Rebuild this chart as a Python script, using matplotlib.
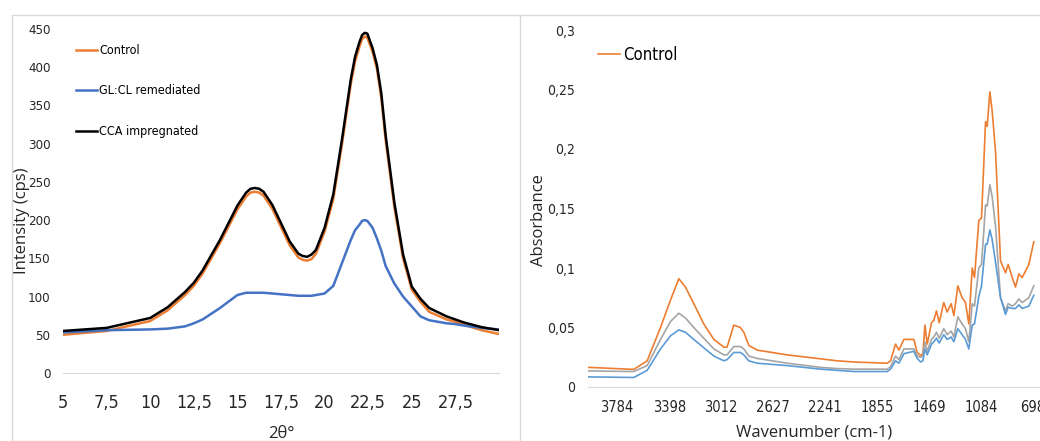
import numpy as np
import matplotlib.pyplot as plt
from matplotlib import font_manager
from matplotlib.patches import Rectangle
from matplotlib.lines import Line2D

# fonts: narrow for the ticks (Excel look), normal for axis titles
names = set(f.name for f in font_manager.fontManager.ttflist)
NARROW = 'Liberation Sans Narrow' if 'Liberation Sans Narrow' in names else 'DejaVu Sans'
TITLE = 'Open Sans' if 'Open Sans' in names else 'DejaVu Sans'
NARROW_FONT = dict(family=NARROW, stretch='condensed')

# ---- XRD data (left) ----
theta = [5, 7.5, 10, 11, 12, 12.5, 13, 14, 15, 15.5, 15.75, 16, 16.25, 16.5, 17, 17.5, 18, 18.5,
         18.75, 19, 19.25, 19.5, 20, 20.5, 21, 21.5, 21.75, 22, 22.15, 22.3, 22.45, 22.75, 23,
         23.25, 23.5, 24, 24.5, 25, 25.5, 26, 27, 27.5, 28, 29, 30]
control_xrd = [50, 55, 68, 82, 102, 114, 130, 170, 214, 231, 236, 237, 236, 232, 215, 191, 167, 151,
               148, 147, 149, 156, 185, 228, 300, 378, 408, 427, 437, 440, 439, 420, 398, 360,
               305, 217, 150, 109, 93, 80, 70, 67, 63, 56, 51]
cca_xrd = [55, 59, 72, 86, 106, 118, 134, 174, 219, 236, 241, 242, 241, 237, 220, 196, 172, 156,
           153, 152, 155, 161, 190, 234, 306, 384, 414, 433, 442, 445, 444, 425, 403, 366,
           311, 223, 155, 113, 97, 85, 74, 70, 66, 60, 56]
gl_xrd = [53, 56, 57, 58, 61, 65, 70, 85, 102, 105, 105, 105, 105, 105, 104, 103, 102, 101,
          101, 101, 101, 102, 104, 114, 144, 174, 187, 194, 199, 200, 199, 190, 176, 160,
          140, 117, 100, 87, 74, 69, 65, 64, 62, 59, 57]

# ---- FTIR data (right) ----
wn = [3994, 3660, 3561, 3462, 3388, 3326, 3277, 3215, 3141, 3066, 2992, 2968, 2918, 2869, 2844,
      2807, 2745, 2522, 2275, 2151, 2028, 1780, 1755, 1718, 1693, 1656, 1582, 1557, 1532, 1515,
      1500, 1483, 1451, 1434, 1414, 1394, 1360, 1335, 1305, 1285, 1256, 1224, 1199, 1174, 1149,
      1132, 1100, 1080, 1050, 1038, 1018, 1001, 976, 939, 902, 882, 852, 828, 803, 778, 729, 692]
control_ir = [0.0165, 0.0148, 0.022, 0.050, 0.073, 0.091, 0.084, 0.070, 0.053, 0.040, 0.0335, 0.0335,
              0.052, 0.050, 0.046, 0.035, 0.031, 0.027, 0.0237, 0.022, 0.021, 0.020, 0.022, 0.036,
              0.031, 0.040, 0.040, 0.029, 0.0265, 0.028, 0.052, 0.036, 0.054, 0.056, 0.064, 0.054,
              0.071, 0.063, 0.070, 0.060, 0.085, 0.075, 0.071, 0.053, 0.100, 0.092, 0.140, 0.142,
              0.223, 0.219, 0.248, 0.232, 0.198, 0.106, 0.096, 0.103, 0.092, 0.084, 0.095, 0.092,
              0.103, 0.122]
gray_ir = [0.0135, 0.0130, 0.018, 0.040, 0.055, 0.062, 0.058, 0.050, 0.041, 0.032, 0.027, 0.027,
           0.034, 0.034, 0.032, 0.026, 0.024, 0.020, 0.0165, 0.0155, 0.015, 0.015, 0.017, 0.026,
           0.023, 0.032, 0.032, 0.026, 0.025, 0.026, 0.038, 0.030, 0.040, 0.042, 0.046, 0.041,
           0.049, 0.044, 0.047, 0.042, 0.059, 0.053, 0.049, 0.038, 0.070, 0.068, 0.100, 0.103,
           0.153, 0.152, 0.170, 0.160, 0.135, 0.075, 0.064, 0.070, 0.068, 0.070, 0.074, 0.071,
           0.075, 0.085]
blue_ir = [0.0085, 0.008, 0.014, 0.032, 0.043, 0.048, 0.046, 0.040, 0.033, 0.026, 0.022, 0.023,
           0.029, 0.029, 0.027, 0.022, 0.020, 0.018, 0.015, 0.014, 0.013, 0.013, 0.015, 0.022,
           0.020, 0.028, 0.030, 0.024, 0.021, 0.022, 0.032, 0.027, 0.036, 0.038, 0.041, 0.037,
           0.044, 0.040, 0.042, 0.038, 0.049, 0.044, 0.040, 0.032, 0.052, 0.053, 0.076, 0.085,
           0.120, 0.120, 0.132, 0.124, 0.105, 0.075, 0.061, 0.067, 0.066, 0.066, 0.069, 0.066,
           0.068, 0.077]

xrd_ticks = [5, 7.5, 10, 12.5, 15, 17.5, 20, 22.5, 25, 27.5]
xrd_ticklabels = ['5', '7,5', '10', '12,5', '15', '17,5', '20', '22,5', '25', '27,5']
ir_ticks = [3784, 3398, 3012, 2627, 2241, 1855, 1469, 1084, 698]
ir_yticks = [0, 0.05, 0.1, 0.15, 0.2, 0.25, 0.3]
ir_yticklabels = ['0', '0,05', '0,1', '0,15', '0,2', '0,25', '0,3']

W, H = 1040, 441
fig = plt.figure(figsize=(W / 100, H / 100), dpi=100)

# panel borders (screenshot of two excel charts)
fig.patches.append(Rectangle((12 / W, 0), (520 - 12) / W, (H - 15) / H, transform=fig.transFigure,
                             fill=False, edgecolor='#d9d9d9', lw=1))
fig.lines.append(Line2D([520 / W, 1], [1 - 15 / H, 1 - 15 / H], transform=fig.transFigure,
                        color='#d9d9d9', lw=1))

def fpos(x0, x1, ytop, ybot):
    return [x0 / W, 1 - ybot / H, (x1 - x0) / W, (ybot - ytop) / H]

# ---- left chart ----
ax1 = fig.add_axes(fpos(63, 499, 29, 373))
ax1.plot(theta, control_xrd, color='#ED7D31', lw=1.8, label='Control')
ax1.plot(theta, gl_xrd, color='#4472C4', lw=1.8, label='GL:CL remediated')
ax1.plot(theta, cca_xrd, color='black', lw=1.8, label='CCA impregnated')
ax1.set_xlim(5, 30)
ax1.set_ylim(0, 450)
ax1.set_yticks(range(0, 451, 50))
ax1.set_xticks(xrd_ticks)
ax1.set_xticklabels(xrd_ticklabels, fontsize=13, **NARROW_FONT)
ax1.set_yticklabels([str(v) for v in range(0, 451, 50)], fontsize=9.5, **NARROW_FONT)
ax1.tick_params(length=0, colors='#262626')
ax1.tick_params(axis='x', pad=15)
ax1.tick_params(axis='y', pad=9)
for s in ['left', 'right', 'top']:
    ax1.spines[s].set_visible(False)
ax1.spines['bottom'].set_color('#d9d9d9')
ax1.set_xlabel('2θ°', family=TITLE, fontsize=12, color='#262626', labelpad=10)
ax1.yaxis.set_label_coords(30 / W, 1 - 205 / H, transform=fig.transFigure)
ax1.set_ylabel('Intensity (cps)', family=TITLE, fontsize=12, color='#262626')
ax1.legend(loc='upper left', bbox_to_anchor=(76 / W, 1 - 44 / H), bbox_transform=fig.transFigure,
           frameon=False, prop={'family': NARROW, 'stretch': 'condensed', 'size': 9},
           handlelength=1.7, handletextpad=0.15, labelspacing=2.2, borderpad=0, borderaxespad=0)

# ---- right chart ----
ax2 = fig.add_axes(fpos(588, 1040, 30, 387))
ax2.plot(wn, control_ir, color='#ED7D31', lw=1.2, label='Control')
ax2.plot(wn, gray_ir, color='#A5A5A5', lw=1.2)
ax2.plot(wn, blue_ir, color='#5B9BD5', lw=1.2)
ax2.set_xlim(4000, 646)
ax2.set_ylim(0, 0.3)
ax2.set_xticks(ir_ticks)
ax2.set_xticklabels([str(v) for v in ir_ticks], fontsize=10.5, **NARROW_FONT)
ax2.set_yticks(ir_yticks)
ax2.set_yticklabels(ir_yticklabels, fontsize=10, **NARROW_FONT)
ax2.tick_params(length=0, pad=9, colors='#262626')
ax2.tick_params(axis='y', pad=9)
for s in ['left', 'right', 'top']:
    ax2.spines[s].set_visible(False)
ax2.spines['bottom'].set_color('#d9d9d9')
ax2.set_xlabel('Wavenumber (cm-1)', family=TITLE, fontsize=12, color='#262626', labelpad=7)
ax2.yaxis.set_label_coords(547 / W, 1 - 207 / H, transform=fig.transFigure)
ax2.set_ylabel('Absorbance', family=TITLE, fontsize=12, color='#262626')
ax2.legend(loc='upper left', bbox_to_anchor=(598 / W, 1 - 46 / H), bbox_transform=fig.transFigure,
           frameon=False, prop={'family': NARROW, 'stretch': 'condensed', 'size': 12},
           handlelength=1.3, handletextpad=0.2, borderpad=0, borderaxespad=0)

fig.savefig('out.png', dpi=100)
